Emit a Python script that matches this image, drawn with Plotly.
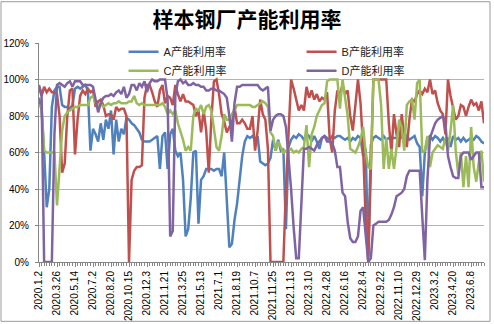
import datetime as dt
import plotly.graph_objects as go

# Tick labels shown on the category axis (every 7th week)
tick_labels = ["2020.1.2", "2020.3.26", "2020.5.14", "2020.7.2", "2020.8.20", "2020.10.15",
               "2020.12.3", "2021.1.21", "2021.3.25", "2021.5.13", "2021.7.1", "2021.8.19",
               "2021.10.7", "2021.11.25", "2022.1.13", "2022.3.10", "2022.4.28", "2022.6.16",
               "2022.8.4", "2022.9.22", "2022.11.10", "2022.12.29", "2023.3.2", "2023.4.20",
               "2023.6.8"]

def _d(s):
    y, m, d = (int(v) for v in s.split("."))
    return dt.date(y, m, d)

def _fmt(d):
    return f"{d.year}.{d.month}.{d.day}"

# weekly categories (7 per labelled interval, gaps around holidays)
categories = []
for a, b in zip(tick_labels[:-1], tick_labels[1:]):
    d0, d1 = _d(a), _d(b)
    categories.append(_fmt(d0))
    for k in range(6, 0, -1):
        categories.append(_fmt(d1 - dt.timedelta(days=7 * k)))
last = _d(tick_labels[-1])
for k in range(6):
    categories.append(_fmt(last + dt.timedelta(days=7 * k)))

series_a = [90, 83, 60, 30, 40, 85, 94, 96, 96, 86,
            85, 85, 84, 86, 95, 96, 95, 96, 97, 94,
            61, 73, 70, 66, 76, 67, 78, 73, 83, 59,
            78, 66, 73, 70, 79, 78, 76, 75, 73, 71,
            67, 66, 66, 66, 67, 68, 69, 51, 69, 71,
            51, 70, 73, 61, 58, 60, 45, 14, 18, 35,
            60, 61, 21, 45, 47, 51, 51, 51, 50, 51,
            51, 47, 60, 33, 8, 10, 23, 32, 45, 58,
            66, 69, 68, 69, 67, 69, 55, 54, 53, 54,
            57, 67, 61, 67, 61, 62, 18, 63, 67, 69,
            68, 70, 69, 67, 70, 69, 66, 69, 66, 62,
            68, 69, 68, 67, 69, 68, 69, 69, 68, 67,
            68, 66, 68, 67, 69, 68, 58, 62, 3, 64,
            68, 69, 68, 67, 69, 67, 68, 68, 68, 68,
            67, 69, 66, 69, 67, 68, 69, 65, 63, 36,
            60, 68, 69, 67, 69, 68, 66, 68, 65, 68,
            63, 69, 67, 68, 66, 68, 66, 67, 68, 67,
            69, 68, 66, 65]

series_b = [96, 91, 96, 93, 95, 93, 93, 92, 80, 49,
            54, 80, 94, 95, 59, 78, 91, 94, 92, 95,
            93, 94, 85, 88, 89, 86, 80, 81, 81, 78,
            85, 83, 84, 84, 80, 0, 45, 50, 52, 52,
            53, 90, 97, 97, 93, 88, 85, 94, 97, 87,
            91, 90, 86, 97, 92, 88, 92, 88, 88, 87,
            86, 80, 83, 71, 83, 72, 49, 78, 99, 100,
            92, 81, 77, 71, 74, 76, 85, 76, 76, 78,
            76, 73, 73, 80, 61, 72, 89, 81, 78, 62,
            0, 0, 0, 0, 0, 0, 40, 70, 100, 95,
            89, 83, 86, 83, 96, 90, 94, 89, 92, 88,
            90, 89, 93, 68, 60, 83, 94, 92, 97, 92,
            94, 80, 72, 87, 100, 87, 63, 23, 0, 50,
            100, 100, 100, 100, 100, 100, 76, 60, 81, 70,
            63, 81, 69, 63, 78, 89, 88, 92, 94, 92,
            95, 93, 100, 92, 94, 87, 83, 81, 70, 100,
            91, 85, 78, 80, 86, 85, 80, 85, 89, 86,
            87, 83, 88, 76]

series_c = [86, 85, 61, 60, 60, 60, 60, 31, 50, 72,
            80, 82, 83, 84, 85, 85, 86, 86, 86, 86,
            90, 91, 87, 85, 87, 85, 86, 87, 86, 87,
            87, 88, 87, 87, 87, 88, 88, 91, 87, 86,
            87, 86, 86, 86, 86, 86, 86, 86, 87, 85,
            81, 83, 81, 83, 76, 72, 67, 61, 63, 61,
            80, 84, 83, 86, 81, 85, 86, 83, 73, 63,
            61, 69, 81, 78, 78, 81, 83, 86, 86, 86,
            86, 86, 86, 85, 85, 86, 87, 88, 87, 85,
            71, 69, 61, 66, 63, 60, 61, 61, 62, 60,
            61, 60, 62, 63, 75, 52, 70, 74, 80, 83,
            86, 87, 99, 100, 100, 100, 100, 84, 100, 90,
            80, 62, 61, 60, 63, 67, 74, 60, 52, 51,
            100, 100, 100, 86, 51, 68, 51, 62, 51, 63,
            78, 74, 61, 86, 88, 89, 78, 98, 100, 60,
            61, 69, 52, 60, 62, 64, 63, 62, 68, 61,
            72, 86, 61, 48, 60, 41, 58, 41, 74, 52,
            44, 55, 61, 44]

series_d = [97, 92, 0, 0, 0, 0, 70, 97, 98, 97,
            96, 98, 99, 96, 99, 99, 99, 97, 97, 97,
            97, 96, 89, 82, 87, 90, 91, 91, 92, 91,
            93, 94, 92, 96, 90, 92, 97, 97, 94, 98,
            96, 99, 93, 98, 100, 99, 99, 100, 100, 100,
            89, 14, 17, 91, 99, 100, 98, 99, 97, 97,
            98, 97, 97, 96, 96, 94, 94, 95, 95, 94,
            94, 93, 92, 90, 80, 66, 87, 96, 96, 97,
            97, 97, 97, 97, 97, 97, 95, 94, 95, 96,
            72, 78, 80, 81, 81, 80, 74, 58, 40, 19,
            2, 2, 30, 62, 62, 63, 62, 61, 64, 66,
            68, 69, 66, 66, 65, 61, 52, 52, 38, 36,
            22, 13, 11, 11, 14, 28, 30, 15, 0, 2,
            20, 21, 22, 22, 22, 22, 23, 26, 30, 36,
            37, 38, 40, 47, 50, 50, 50, 50, 50, 25,
            1, 45, 68, 72, 76, 78, 79, 80, 76, 58,
            52, 47, 46, 46, 58, 60, 60, 60, 56, 58,
            60, 60, 41, 41]

names = ["A产能利用率", "B产能利用率", "C产能利用率", "D产能利用率"]
colors = ["#4F81BD", "#C0504D", "#9BBB59", "#8064A2"]
x_idx = list(range(len(categories)))

fig = go.Figure()
for name, vals, col in zip(names, [series_a, series_b, series_c, series_d], colors):
    fig.add_trace(go.Scatter(x=x_idx[:len(vals)], y=vals, name=name, mode="lines",
                             line=dict(color=col, width=2.5),
                             customdata=categories[:len(vals)],
                             hovertemplate="%{customdata}: %{y}%<extra>" + name + "</extra>"))

axis_col = "#868686"
fig.update_layout(
    width=494, height=324,
    margin=dict(l=39, r=10, t=43, b=62, autoexpand=False),
    paper_bgcolor="white", plot_bgcolor="white",
    font=dict(family="Liberation Sans, Noto Sans CJK SC", size=10, color="black"),
    title=dict(text="<b>样本钢厂产能利用率</b>", x=0.5, xref="container", xanchor="center",
               y=1 - 20 / 324, yref="container", yanchor="middle",
               font=dict(family="Noto Sans CJK SC", size=21, color="black")),
    legend=dict(orientation="h", x=0.19, xanchor="left", y=1.026, yanchor="top",
                entrywidth=133, bgcolor="rgba(0,0,0,0)",
                font=dict(family="Liberation Sans, Noto Sans CJK SC", size=11, color="#222"),
                tracegroupgap=0),
    showlegend=True,
)
fig.update_xaxes(range=[0, len(categories) - 1], tickmode="array",
                 tickvals=list(range(0, len(categories), 7)), ticktext=tick_labels,
                 tickangle=-90, tickfont=dict(size=10), showgrid=False,
                 showline=True, linecolor=axis_col, linewidth=1,
                 ticks="outside", ticklen=4, tickcolor=axis_col,
                 minor=dict(dtick=1, tick0=0, ticks="outside", ticklen=3, tickcolor=axis_col),
                 zeroline=False)
fig.update_yaxes(range=[0, 120], dtick=20, ticksuffix="%", tickfont=dict(size=10),
                 showgrid=True, gridcolor="#b4b4b4", gridwidth=1,
                 showline=True, linecolor=axis_col, linewidth=1,
                 ticks="outside", ticklen=3, tickcolor=axis_col, zeroline=False,
                 ticklabelstandoff=4)

# chart-area border
fig.add_shape(type="rect", xref="paper", yref="paper",
              x0=-38 / 445, x1=451 / 445, y0=-59.5 / 219.6, y1=261 / 219.6,
              line=dict(color="#9a9a9a", width=1), fillcolor="rgba(0,0,0,0)", layer="below")

fig.write_html("out.html")
